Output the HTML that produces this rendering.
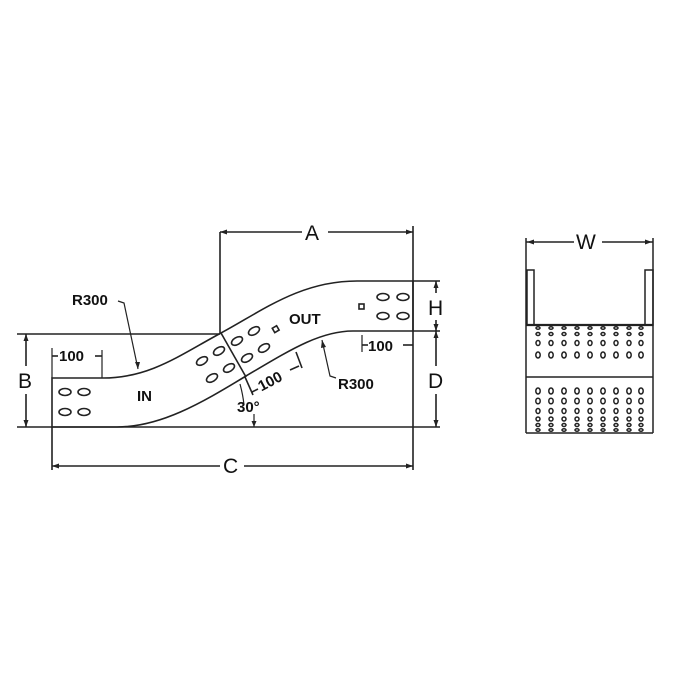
<!DOCTYPE html>
<html><head><style>body{margin:0;background:#fff}svg{display:block}text{font-family:"Liberation Sans",Arial,sans-serif;fill:#111}</style></head>
<body>
<svg width="680" height="680" viewBox="0 0 680 680" xmlns="http://www.w3.org/2000/svg">
<g stroke="#222" fill="none" stroke-width="1.6">
<path d="M52,427 L52,378 L103,378 C150,378 180,355 221,333 C262,311 300,281 357,281 L413,281 L413,331 L353,331 C320,331 290,350 246,376 C200,404 160,427 117,427 Z" fill="#fff"/>
<line x1="221" y1="333" x2="246" y2="377"/>
<line x1="220" y1="232" x2="220" y2="333"/>
<line x1="413" y1="226" x2="413" y2="470"/>
<line x1="220" y1="232" x2="302" y2="232"/><line x1="328" y1="232" x2="413" y2="232"/>
<line x1="17" y1="334" x2="220" y2="334"/>
<line x1="17" y1="427" x2="440" y2="427"/>
<line x1="26" y1="334" x2="26" y2="366"/><line x1="26" y1="394" x2="26" y2="427"/>
<line x1="52" y1="427" x2="52" y2="470"/>
<line x1="52" y1="466" x2="220" y2="466"/><line x1="244" y1="466" x2="413" y2="466"/>
<line x1="413" y1="281" x2="440" y2="281"/>
<line x1="413" y1="331" x2="440" y2="331"/>
<line x1="436" y1="281" x2="436" y2="293"/><line x1="436" y1="320" x2="436" y2="366"/><line x1="436" y1="394" x2="436" y2="427"/>
<line x1="52" y1="348" x2="52" y2="378" stroke-width="1.2"/>
<line x1="102" y1="350" x2="102" y2="378" stroke-width="1.2"/>
<line x1="52" y1="356" x2="58" y2="356"/><line x1="95" y1="356" x2="102" y2="356"/>
<line x1="362" y1="335" x2="362" y2="352" stroke-width="1.2"/>
<line x1="362" y1="345" x2="368" y2="345"/><line x1="403" y1="345" x2="413" y2="345"/>
<line x1="245" y1="377" x2="253" y2="395"/>
<line x1="296" y1="352" x2="302" y2="368"/>
<line x1="252" y1="392" x2="258" y2="389"/>
<line x1="290" y1="370" x2="299" y2="366"/>
<path d="M118,301 L124,303 L138,369" stroke-width="1.2"/>
<path d="M336,378 L330,376 L322,340" stroke-width="1.2"/>
<path d="M240,384 Q243,395 244,405" stroke-width="1.2"/>
<line x1="254" y1="414" x2="254" y2="427" stroke-width="1.2"/>
</g>
<g fill="#222">
<path d="M220,232 l7,-2.5 v5z"/><path d="M413,232 l-7,-2.5 v5z"/>
<path d="M26,334 l-2.5,7 h5z"/><path d="M26,427 l-2.5,-7 h5z"/>
<path d="M52,466 l7,-2.5 v5z"/><path d="M413,466 l-7,-2.5 v5z"/>
<path d="M436,281 l-2.5,7 h5z"/><path d="M436,331 l-2.5,-7 h5z"/><path d="M436,331 l-2.5,7 h5z"/><path d="M436,427 l-2.5,-7 h5z"/>
<path d="M138,369 l-3,-7 h5z"/><path d="M322,340 l-1,8 l5,-1z"/>
<path d="M254,427 l-2.5,-6 h5z"/>
</g>
<g stroke="#222" stroke-width="1.6" fill="#fff">
<ellipse cx="65" cy="392" rx="6" ry="3.5"/><ellipse cx="84" cy="392" rx="6" ry="3.5"/>
<ellipse cx="65" cy="412" rx="6" ry="3.5"/><ellipse cx="84" cy="412" rx="6" ry="3.5"/>
<ellipse cx="383" cy="297" rx="6" ry="3.5"/><ellipse cx="403" cy="297" rx="6" ry="3.5"/>
<ellipse cx="383" cy="316" rx="6" ry="3.5"/><ellipse cx="403" cy="316" rx="6" ry="3.5"/>
<rect x="359" y="304" width="5" height="5"/>
<g transform="rotate(-30 202 361)"><ellipse cx="202" cy="361" rx="6" ry="3.5"/></g>
<g transform="rotate(-30 219 351)"><ellipse cx="219" cy="351" rx="6" ry="3.5"/></g>
<g transform="rotate(-30 212 378)"><ellipse cx="212" cy="378" rx="6" ry="3.5"/></g>
<g transform="rotate(-30 229 368)"><ellipse cx="229" cy="368" rx="6" ry="3.5"/></g>
<g transform="rotate(-30 237 341)"><ellipse cx="237" cy="341" rx="6" ry="3.5"/></g>
<g transform="rotate(-30 254 331)"><ellipse cx="254" cy="331" rx="6" ry="3.5"/></g>
<g transform="rotate(-30 247 358)"><ellipse cx="247" cy="358" rx="6" ry="3.5"/></g>
<g transform="rotate(-30 264 348)"><ellipse cx="264" cy="348" rx="6" ry="3.5"/></g>
<rect x="273" y="327" width="5" height="5" transform="rotate(-30 275 329)"/>
</g>
<g font-size="21">
<text x="305" y="240">A</text>
<text x="18" y="388">B</text>
<text x="223" y="473">C</text>
<text x="428" y="315">H</text>
<text x="428" y="388">D</text>
<text x="576" y="249">W</text>
</g>
<g font-size="15" font-weight="bold">
<text x="72" y="305">R300</text>
<text x="338" y="389">R300</text>
<text x="137" y="401">IN</text>
<text x="289" y="324">OUT</text>
<text x="59" y="361">100</text>
<text x="368" y="351">100</text>
<text x="256" y="386" transform="rotate(-28 270 378)">100</text>
<text x="237" y="412">30°</text>
</g>
<g stroke="#222" fill="none" stroke-width="1.5">
<line x1="526" y1="238" x2="526" y2="433"/>
<line x1="653" y1="238" x2="653" y2="433"/>
<line x1="526" y1="242" x2="574" y2="242"/><line x1="602" y1="242" x2="653" y2="242"/>
<rect x="527" y="270" width="7" height="55"/>
<rect x="645" y="270" width="8" height="55"/>
<line x1="526" y1="325" x2="653" y2="325" stroke-width="2.2"/>
<line x1="526" y1="377" x2="653" y2="377"/>
<line x1="526" y1="433" x2="653" y2="433"/>
</g>
<g fill="#222"><path d="M527,242 l7,-2.5 v5z"/><path d="M652,242 l-7,-2.5 v5z"/></g>
<g stroke="#222" fill="#fff" stroke-width="1.5">
<ellipse cx="538" cy="328" rx="2" ry="1.2"/><ellipse cx="538" cy="334" rx="2" ry="1.5"/><ellipse cx="538" cy="343" rx="2" ry="2.5"/><ellipse cx="538" cy="355" rx="2.2" ry="3"/>
<ellipse cx="551" cy="328" rx="2" ry="1.2"/><ellipse cx="551" cy="334" rx="2" ry="1.5"/><ellipse cx="551" cy="343" rx="2" ry="2.5"/><ellipse cx="551" cy="355" rx="2.2" ry="3"/>
<ellipse cx="564" cy="328" rx="2" ry="1.2"/><ellipse cx="564" cy="334" rx="2" ry="1.5"/><ellipse cx="564" cy="343" rx="2" ry="2.5"/><ellipse cx="564" cy="355" rx="2.2" ry="3"/>
<ellipse cx="577" cy="328" rx="2" ry="1.2"/><ellipse cx="577" cy="334" rx="2" ry="1.5"/><ellipse cx="577" cy="343" rx="2" ry="2.5"/><ellipse cx="577" cy="355" rx="2.2" ry="3"/>
<ellipse cx="590" cy="328" rx="2" ry="1.2"/><ellipse cx="590" cy="334" rx="2" ry="1.5"/><ellipse cx="590" cy="343" rx="2" ry="2.5"/><ellipse cx="590" cy="355" rx="2.2" ry="3"/>
<ellipse cx="603" cy="328" rx="2" ry="1.2"/><ellipse cx="603" cy="334" rx="2" ry="1.5"/><ellipse cx="603" cy="343" rx="2" ry="2.5"/><ellipse cx="603" cy="355" rx="2.2" ry="3"/>
<ellipse cx="616" cy="328" rx="2" ry="1.2"/><ellipse cx="616" cy="334" rx="2" ry="1.5"/><ellipse cx="616" cy="343" rx="2" ry="2.5"/><ellipse cx="616" cy="355" rx="2.2" ry="3"/>
<ellipse cx="629" cy="328" rx="2" ry="1.2"/><ellipse cx="629" cy="334" rx="2" ry="1.5"/><ellipse cx="629" cy="343" rx="2" ry="2.5"/><ellipse cx="629" cy="355" rx="2.2" ry="3"/>
<ellipse cx="641" cy="328" rx="2" ry="1.2"/><ellipse cx="641" cy="334" rx="2" ry="1.5"/><ellipse cx="641" cy="343" rx="2" ry="2.5"/><ellipse cx="641" cy="355" rx="2.2" ry="3"/>
<ellipse cx="538" cy="391" rx="2.2" ry="3"/><ellipse cx="538" cy="401" rx="2.2" ry="2.8"/><ellipse cx="538" cy="411" rx="2" ry="2.5"/><ellipse cx="538" cy="419" rx="2" ry="2"/><ellipse cx="538" cy="425" rx="2" ry="1.5"/><ellipse cx="538" cy="430" rx="2" ry="1.2"/>
<ellipse cx="551" cy="391" rx="2.2" ry="3"/><ellipse cx="551" cy="401" rx="2.2" ry="2.8"/><ellipse cx="551" cy="411" rx="2" ry="2.5"/><ellipse cx="551" cy="419" rx="2" ry="2"/><ellipse cx="551" cy="425" rx="2" ry="1.5"/><ellipse cx="551" cy="430" rx="2" ry="1.2"/>
<ellipse cx="564" cy="391" rx="2.2" ry="3"/><ellipse cx="564" cy="401" rx="2.2" ry="2.8"/><ellipse cx="564" cy="411" rx="2" ry="2.5"/><ellipse cx="564" cy="419" rx="2" ry="2"/><ellipse cx="564" cy="425" rx="2" ry="1.5"/><ellipse cx="564" cy="430" rx="2" ry="1.2"/>
<ellipse cx="577" cy="391" rx="2.2" ry="3"/><ellipse cx="577" cy="401" rx="2.2" ry="2.8"/><ellipse cx="577" cy="411" rx="2" ry="2.5"/><ellipse cx="577" cy="419" rx="2" ry="2"/><ellipse cx="577" cy="425" rx="2" ry="1.5"/><ellipse cx="577" cy="430" rx="2" ry="1.2"/>
<ellipse cx="590" cy="391" rx="2.2" ry="3"/><ellipse cx="590" cy="401" rx="2.2" ry="2.8"/><ellipse cx="590" cy="411" rx="2" ry="2.5"/><ellipse cx="590" cy="419" rx="2" ry="2"/><ellipse cx="590" cy="425" rx="2" ry="1.5"/><ellipse cx="590" cy="430" rx="2" ry="1.2"/>
<ellipse cx="603" cy="391" rx="2.2" ry="3"/><ellipse cx="603" cy="401" rx="2.2" ry="2.8"/><ellipse cx="603" cy="411" rx="2" ry="2.5"/><ellipse cx="603" cy="419" rx="2" ry="2"/><ellipse cx="603" cy="425" rx="2" ry="1.5"/><ellipse cx="603" cy="430" rx="2" ry="1.2"/>
<ellipse cx="616" cy="391" rx="2.2" ry="3"/><ellipse cx="616" cy="401" rx="2.2" ry="2.8"/><ellipse cx="616" cy="411" rx="2" ry="2.5"/><ellipse cx="616" cy="419" rx="2" ry="2"/><ellipse cx="616" cy="425" rx="2" ry="1.5"/><ellipse cx="616" cy="430" rx="2" ry="1.2"/>
<ellipse cx="629" cy="391" rx="2.2" ry="3"/><ellipse cx="629" cy="401" rx="2.2" ry="2.8"/><ellipse cx="629" cy="411" rx="2" ry="2.5"/><ellipse cx="629" cy="419" rx="2" ry="2"/><ellipse cx="629" cy="425" rx="2" ry="1.5"/><ellipse cx="629" cy="430" rx="2" ry="1.2"/>
<ellipse cx="641" cy="391" rx="2.2" ry="3"/><ellipse cx="641" cy="401" rx="2.2" ry="2.8"/><ellipse cx="641" cy="411" rx="2" ry="2.5"/><ellipse cx="641" cy="419" rx="2" ry="2"/><ellipse cx="641" cy="425" rx="2" ry="1.5"/><ellipse cx="641" cy="430" rx="2" ry="1.2"/>
</g>
</svg>
</body></html>
